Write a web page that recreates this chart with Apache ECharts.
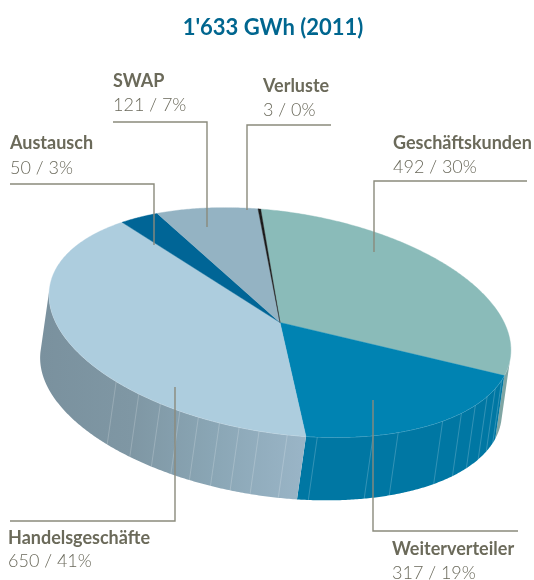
<!DOCTYPE html>
<html>
<head>
<meta charset="utf-8">
<title>1'633 GWh (2011)</title>
<script src="https://cdn.jsdelivr.net/npm/echarts@6/dist/echarts.min.js"></script>
<style>
  html, body { margin: 0; padding: 0; background: #fff; }
  #chart { width: 534px; height: 580px; }
</style>
</head>
<body>
<div id="chart"></div>
<script>
// data, clockwise from the top of the pie
const sliceNames = ["Geschäftskunden", "Weiterverteiler", "Handelsgeschäfte", "Austausch", "SWAP", "Verluste"];
const sliceValues = [492, 317, 650, 50, 121, 3];
const slicePercents = [30, 19, 41, 3, 7, 0];

// colours
const topColors = ["#8abbb9", "#0083b2", "#adcdde", "#006596", "#94b3c3", "#1a1a1a"];
const sideColors = [
  "#7fa5a3",
  "#0077a3",
  { type: "linear", x: 0, y: 0, x2: 1, y2: 0, colorStops: [
    { offset: 0, color: "#7a919e" },
    { offset: 0.35, color: "#7f97a4" },
    { offset: 0.65, color: "#8aa6b5" },
    { offset: 1, color: "#9ab5c7" }
  ] },
  "#006596", "#94b3c3", "#1a1a1a"
];
const leaderColor = "#8a8a7c";
const nameColor = "#6b6a5a";
const valueColor = "#6a695b";

// pie geometry: tilted ellipse plus a constant extrusion
const cx = 280, cy = 322.5;
const radiusA = 233, radiusB = 110.5, tilt = 8.8 * Math.PI / 180;
const ux = radiusA * Math.cos(tilt), uy = radiusA * Math.sin(tilt);
const vx = -radiusB * Math.sin(tilt), vy = radiusB * Math.cos(tilt);
const depthX = -9, depthY = 63;
const startDeg = -99;
const visibleFrom = Math.atan2(vx * depthY - vy * depthX, ux * depthY - uy * depthX) * 180 / Math.PI;
const visibleTo = visibleFrom + 180;
// the faint seams on the side wall, in degrees
const seamDegs = [12, 17, 22, 28, 34, 41, 55, 62, 76.5, 84, 91, 96, 101, 106.5, 111.5, 117, 123.5, 131];

// label positions and leader paths
const labelLayout = [
  { x: 393, nameY: 143, valueY: 167, path: [[527, 181], [374, 181], [374, 252]] },
  { x: 392, nameY: 549, valueY: 573, path: [[518, 531], [373, 531], [373, 400]] },
  { x: 8, nameY: 538, valueY: 561, path: [[10, 521], [175, 521], [175, 387]] },
  { x: 10, nameY: 143, valueY: 168, path: [[10, 184], [154, 184], [154, 245]] },
  { x: 113, nameY: 81, valueY: 105, path: [[113, 122], [207, 122], [207, 227]] },
  { x: 263, nameY: 86, valueY: 110, path: [[331, 125], [247, 125], [247, 210]] }
];

const total = sliceValues.reduce((a, b) => a + b, 0);

function rim(deg) {
  const r = deg * Math.PI / 180;
  return [cx + ux * Math.cos(r) + vx * Math.sin(r), cy + uy * Math.cos(r) + vy * Math.sin(r)];
}
function arc(from, to) {
  const pts = [];
  const n = Math.max(2, Math.ceil((to - from) * 2));
  for (let i = 0; i <= n; i++) pts.push(rim(from + (to - from) * i / n));
  return pts;
}
function sliceRange(idx) {
  let sum = 0;
  for (let i = 0; i < idx; i++) sum += sliceValues[i];
  const from = startDeg + sum / total * 360;
  return [from, from + sliceValues[idx] / total * 360];
}
const shifted = p => [p[0] + depthX, p[1] + depthY];

function renderTop(params, api) {
  const [from, to] = sliceRange(params.dataIndex);
  return {
    type: "polygon",
    silent: true,
    shape: { points: [[cx, cy]].concat(arc(from, to)) },
    style: { fill: topColors[params.dataIndex], stroke: topColors[params.dataIndex], lineWidth: 0.4 }
  };
}

function renderSide(params, api) {
  const idx = params.dataIndex;
  const [a, b] = sliceRange(idx);
  const from = Math.max(a, visibleFrom);
  const to = Math.min(b, visibleTo);
  if (to <= from) return null;
  const edge = arc(from, to);
  const children = [{
    type: "polygon",
    shape: { points: edge.concat(edge.slice().reverse().map(shifted)) },
    style: { fill: sideColors[idx], stroke: null }
  }];
  seamDegs.filter(d => d > from && d < to).forEach(d => {
    const p = rim(d);
    const q = shifted(p);
    children.push({
      type: "line",
      shape: { x1: p[0], y1: p[1], x2: q[0], y2: q[1] },
      style: { stroke: "rgba(255,255,255,0.2)", lineWidth: 1 }
    });
  });
  children.push({
    type: "polyline",
    shape: { points: edge },
    style: { stroke: "rgba(255,255,255,0.35)", lineWidth: 1, fill: null }
  });
  return { type: "group", silent: true, children: children };
}

const labelGraphics = [];
sliceNames.forEach((name, i) => {
  const l = labelLayout[i];
  labelGraphics.push({
    type: "polyline", z: 10, silent: true,
    shape: { points: l.path },
    style: { stroke: leaderColor, lineWidth: 1.4, fill: null }
  });
  labelGraphics.push({
    type: "text", z: 10, silent: true, x: l.x, y: l.nameY,
    style: { text: name, fill: nameColor, font: "bold 18px Lato", textVerticalAlign: "middle" }
  });
  labelGraphics.push({
    type: "text", z: 10, silent: true, x: l.x, y: l.valueY,
    style: { text: sliceValues[i] + " / " + slicePercents[i] + "%", fill: valueColor, font: "300 18px Lato", textVerticalAlign: "middle" }
  });
});

const chart = echarts.init(document.getElementById("chart"), null, { renderer: "canvas" });
chart.setOption({
  animation: false,
  title: {
    text: "1'633 GWh (2011)",
    left: 268,
    top: 12,
    textAlign: "center",
    textStyle: { color: "#00668f", fontFamily: "Lato", fontWeight: "bold", fontSize: 22 }
  },
  graphic: labelGraphics,
  series: [
    {
      type: "custom",
      coordinateSystem: "none",
      z: 1,
      renderItem: renderSide,
      data: sliceValues
    },
    {
      type: "custom",
      coordinateSystem: "none",
      z: 2,
      renderItem: renderTop,
      data: sliceValues
    }
  ]
});
</script>
</body>
</html>
